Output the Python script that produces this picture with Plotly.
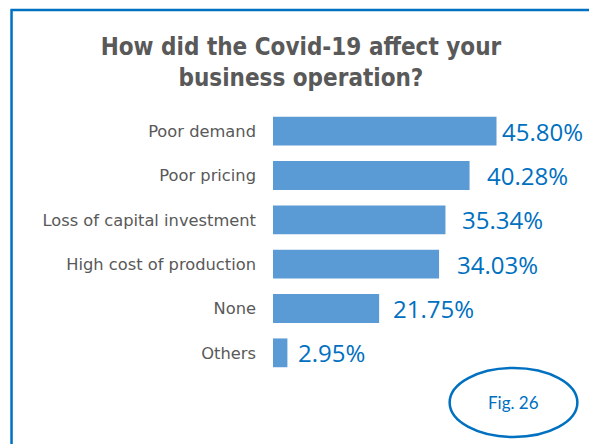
import plotly.graph_objects as go

# data
categories = ["Poor demand", "Poor pricing", "Loss of capital investment",
              "High cost of production", "None", "Others"]
values = [45.80, 40.28, 35.34, 34.03, 21.75, 2.95]
value_labels = ["45.80%", "40.28%", "35.34%", "34.03%", "21.75%", "2.95%"]

W, H = 589, 444
# plot area in pixels
PL, PR, PT, PB = 273, 517.5, 109, 375


def px_x(x):
    return (x - PL) / (PR - PL)


def px_y(y):
    return (PB - y) / (PB - PT)


BLUE = "#0070C0"
GREY = "#595959"

fig = go.Figure(go.Bar(
    x=values,
    y=categories,
    orientation="h",
    marker=dict(color="#5B9BD5", line=dict(width=0)),
    hoverinfo="skip",
))

# value labels, Excel pushed the first one closer to the bar
label_shift = [3, 15, 15, 16, 12, 9]
for v, c, t, s in zip(values, categories, value_labels, label_shift):
    fig.add_annotation(x=v, y=c, text=t, showarrow=False, xanchor="left",
                       yanchor="middle", xshift=s,
                       font=dict(family="Open Sans", size=24, color=BLUE))

# frame lines (left + top)
fig.add_shape(type="path", xref="paper", yref="paper",
              path=f"M {px_x(11)} {px_y(450)} L {px_x(11)} {px_y(10)} L {px_x(600)} {px_y(10)}",
              line=dict(color=BLUE, width=2.5))

# "Fig. 26" badge
fig.add_shape(type="circle", xref="paper", yref="paper",
              x0=px_x(450), x1=px_x(578), y0=px_y(437), y1=px_y(368),
              line=dict(color=BLUE, width=2.5))
fig.add_annotation(xref="paper", yref="paper", x=px_x(514), y=px_y(403),
                   xanchor="center", yanchor="middle",
                   text="Fig. 26", showarrow=False,
                   font=dict(family="Lato", size=17, color=BLUE))

fig.update_layout(
    width=W, height=H,
    margin=dict(l=PL, r=W - PR, t=PT, b=H - PB, pad=0),
    paper_bgcolor="white",
    plot_bgcolor="white",
    showlegend=False,
    bargap=0.35,
    title=dict(
        text="How did the Covid-19 affect your<br>business operation?",
        xref="paper", x=px_x(301), xanchor="center",
        yref="container", y=1 - 55 / H, yanchor="middle",
        font=dict(family="DejaVu Sans Condensed", size=24, color=GREY, weight="bold"),
    ),
    xaxis=dict(range=[0, 50], visible=False, fixedrange=True),
    yaxis=dict(
        autorange="reversed",
        showgrid=False, zeroline=False, showline=False,
        ticks="", ticklabelstandoff=16, fixedrange=True,
        tickfont=dict(family="DejaVu Sans", size=16.3, color=GREY),
    ),
)

# drop the default 8px body margin so the figure sits at the window origin
fig.write_html("out.html", config={"displayModeBar": False},
               post_script="document.body.style.margin='0';")
